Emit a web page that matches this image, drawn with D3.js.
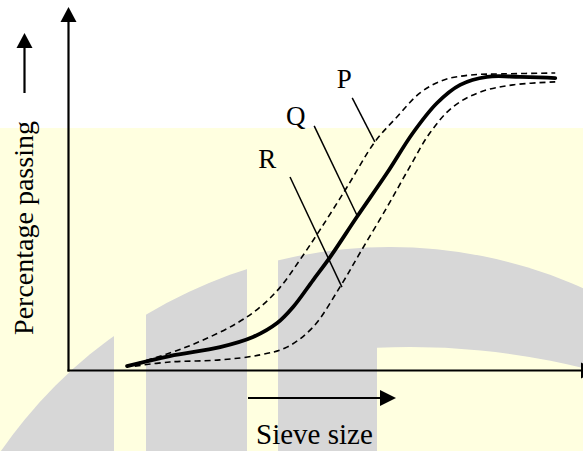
<!DOCTYPE html>
<html>
<head>
<meta charset="utf-8">
<script src="https://cdn.jsdelivr.net/npm/d3@7"></script>
<style>
  html, body { margin: 0; padding: 0; background: #fff; }
  svg { display: block; }
  text { font-family: "Liberation Serif", "Times New Roman", Tinos, "DejaVu Serif", serif; }
</style>
</head>
<body>
<div id="chart"></div>
<script>
// grading curves, sieve size (0-100) vs percentage passing (0-100)
const curveP = [
  [11.3, 1.3], [19.6, 5.7], [26.1, 10.1], [32.7, 15.8], [37.2, 21.2], [41.1, 27.9],
  [44.9, 37.0], [48.8, 47.1], [54.1, 61.6], [59.5, 76.8], [63.8, 85.2], [68.3, 93.3],
  [72.8, 97.6], [78.0, 99.3], [84.4, 99.7], [94.6, 100]
];
const curveQ = [
  [11.3, 1.3], [19.6, 4.7], [29.4, 7.7], [35.8, 11.1], [40.5, 15.8], [43.6, 21.2],
  [47.5, 30.3], [50.8, 38.0], [56.0, 51.5], [61.9, 66.4], [66.9, 79.8], [71.6, 89.9],
  [76.1, 96.0], [81.3, 98.7], [87.7, 98.7], [94.6, 98.3]
];
const curveR = [
  [12.8, 1.3], [19.6, 2.7], [29.4, 3.4], [37.2, 5.1], [42.4, 7.7], [47.5, 14.5],
  [52.7, 27.9], [56.6, 39.4], [61.9, 54.9], [66.3, 68.4], [70.2, 79.8], [74.7, 88.6],
  [80.0, 93.6], [86.4, 96.0], [94.6, 97.0]
];

// labels and their leader lines: [text x, text y], leader [x1, y1, x2, y2]
const labelNames = ["P", "Q", "R"];
const labelPos = [[52.1, 94.9], [42.2, 82.5], [36.8, 68.0]];
const leaders = [
  [55.1, 91.6, 59.5, 76.8],
  [47.7, 82.2, 56.0, 52.2],
  [43.0, 65.0, 53.1, 27.9]
];

const xTitle = "Sieve size";
const yTitle = "Percentage passing";

const width = 583, height = 451;

const svg = d3.select("#chart").append("svg")
  .attr("width", width)
  .attr("height", height);

// background: white top, pale yellow band with grey watermark
svg.append("rect").attr("width", width).attr("height", height).attr("fill", "#ffffff");
svg.append("rect").attr("x", 0).attr("y", 128).attr("width", width).attr("height", height - 128)
  .attr("fill", "#ffffe0");

const defs = svg.append("defs");
defs.append("clipPath").attr("id", "outerArc")
  .append("circle").attr("cx", 390).attr("cy", 720).attr("r", 473);
defs.append("clipPath").attr("id", "innerClip")
  .append("rect").attr("x", 377).attr("y", 0).attr("width", 300).attr("height", height);

const mark = svg.append("g").attr("clip-path", "url(#outerArc)");
[[0, 114], [146, 247], [278, 583]].forEach(([a, b]) => {
  mark.append("rect").attr("x", a).attr("y", 0).attr("width", b - a).attr("height", height)
    .attr("fill", "#d7d7d7");
});
svg.append("g").attr("clip-path", "url(#innerClip)")
  .append("circle").attr("cx", 410).attr("cy", 1067).attr("r", 720).attr("fill", "#ffffe0");

// scales
const x = d3.scaleLinear().domain([0, 100]).range([69, 583]);
const y = d3.scaleLinear().domain([0, 100]).range([370, 73]);

// arrow helper: line plus filled triangle head
function arrow(g, x1, y1, x2, y2, len, half, sw) {
  const ang = Math.atan2(y2 - y1, x2 - x1);
  const bx = x2 - len * Math.cos(ang), by = y2 - len * Math.sin(ang);
  g.append("line")
    .attr("x1", x1).attr("y1", y1).attr("x2", bx).attr("y2", by)
    .attr("stroke", "#000").attr("stroke-width", sw);
  const nx = -Math.sin(ang) * half, ny = Math.cos(ang) * half;
  g.append("path")
    .attr("d", `M${x2},${y2}L${bx + nx},${by + ny}L${bx - nx},${by - ny}Z`)
    .attr("fill", "#000");
}

const axes = svg.append("g");
arrow(axes, 68.5, 371.5, 68.5, 7, 15, 8, 2.2);
arrow(axes, 67.5, 370.5, 597, 370.5, 16, 8, 2.2);

// curves
const line = d3.line()
  .x(d => x(d[0]))
  .y(d => y(d[1]))
  .curve(d3.curveCatmullRom.alpha(0.5));

svg.append("path").datum(curveP)
  .attr("d", line).attr("fill", "none")
  .attr("stroke", "#000").attr("stroke-width", 1.6).attr("stroke-dasharray", "6,4");
svg.append("path").datum(curveR)
  .attr("d", line).attr("fill", "none")
  .attr("stroke", "#000").attr("stroke-width", 1.6).attr("stroke-dasharray", "6,4");
svg.append("path").datum(curveQ)
  .attr("d", line).attr("fill", "none")
  .attr("stroke", "#000").attr("stroke-width", 3.8).attr("stroke-linecap", "round");

// leader lines and labels
svg.selectAll("line.leader").data(leaders).enter().append("line")
  .attr("class", "leader")
  .attr("x1", d => x(d[0])).attr("y1", d => y(d[1]))
  .attr("x2", d => x(d[2])).attr("y2", d => y(d[3]))
  .attr("stroke", "#000").attr("stroke-width", 1.5);

svg.selectAll("text.lbl").data(labelNames).enter().append("text")
  .attr("class", "lbl")
  .attr("x", (d, i) => x(labelPos[i][0]))
  .attr("y", (d, i) => y(labelPos[i][1]))
  .attr("font-size", 27)
  .attr("fill", "#000")
  .text(d => d);

// axis titles with their direction arrows
svg.append("text")
  .attr("x", 256).attr("y", 444)
  .attr("font-size", 29)
  .attr("fill", "#000")
  .text(xTitle);
arrow(svg, 248, 398, 396, 398, 16, 8, 2.2);

svg.append("text")
  .attr("transform", "translate(33,228) rotate(-90)")
  .attr("text-anchor", "middle")
  .attr("font-size", 28)
  .attr("fill", "#000")
  .text(yTitle);
arrow(svg, 24.5, 93, 24.5, 33, 15, 8, 2.2);
</script>
</body>
</html>
